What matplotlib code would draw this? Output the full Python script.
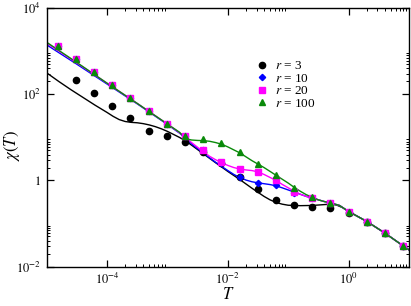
import matplotlib
matplotlib.use("Agg")
import matplotlib.pyplot as plt
import numpy as np
from matplotlib.ticker import FixedLocator, FixedFormatter

plt.rcParams['mathtext.fontset'] = 'stix'
plt.rcParams['font.family'] = ['Liberation Serif', 'DejaVu Serif']

# simulation points, T = 2^k
T_pts = [1.526e-5, 3.052e-5, 6.104e-5, 1.221e-4, 2.441e-4, 4.883e-4, 9.766e-4,
         1.953e-3, 3.906e-3, 7.813e-3, 1.563e-2, 3.125e-2, 6.25e-2, 0.125,
         0.25, 0.5, 1.0, 2.0, 4.0, 8.0]

chi_r3 = [216, 110, 54.6, 27.9, 14.4, 11.0, 7.94, 4.52, 2.51, 1.20,
          0.624, 0.347, 0.269, 0.248, 0.226, 0.174, 0.110, 0.0589, 0.0302]
chi_r10 = [1352, 653, 331, 168, 83.2, 41.8, 20.8, 10.7, 5.01, 2.51, 1.22,
           0.889, 0.794, 0.525, 0.389, 0.295, 0.186, 0.110, 0.0594, 0.0301]
chi_r20 = [1352, 653, 331, 168, 83.2, 41.8, 20.8, 10.7, 5.01, 2.65, 1.85,
           1.60, 1.03, 0.550, 0.398, 0.295, 0.186, 0.110, 0.0594, 0.0301]
chi_r100 = [1352, 653, 331, 168, 83.2, 41.8, 20.8, 10.7, 9.12, 7.24, 4.52,
            2.38, 1.32, 0.681, 0.407, 0.305, 0.186, 0.110, 0.0594, 0.0301]

# theory curves (log10 T, log10 chi)
tail_logT = [0.0, 0.3, 0.6, 0.9, 1.0]
tail_logchi = [-0.72, -0.95, -1.22, -1.515, -1.61]

line3_logT = [-5.0, -4.8, -4.6, -4.4, -4.2, -4.0, -3.9, -3.8, -3.7, -3.6, -3.5,
              -3.4, -3.3, -3.2, -3.1, -3.0, -2.9, -2.8, -2.7, -2.6, -2.4, -2.2,
              -2.0, -1.8, -1.6, -1.4, -1.3, -1.2, -1.1, -1.0, -0.8, -0.6, -0.4,
              -0.3, -0.2, -0.1]
line3_logchi = [2.50, 2.30, 2.11, 1.93, 1.75, 1.58, 1.49, 1.415, 1.37, 1.35, 1.34,
                1.32, 1.29, 1.25, 1.20, 1.14, 1.07, 1.00, 0.92, 0.82, 0.615, 0.41,
                0.21, 0.02, -0.18, -0.37, -0.45, -0.51, -0.55, -0.575, -0.585,
                -0.58, -0.56, -0.55, -0.57, -0.63]

line10_logT = [-5.0, -4.5, -4.0, -3.5, -3.0, -2.8, -2.6, -2.4, -2.2, -2.0, -1.9,
               -1.8, -1.7, -1.6, -1.5, -1.4, -1.3, -1.2, -1.1, -1.0, -0.9, -0.8,
               -0.7, -0.6, -0.5, -0.4, -0.3, -0.15]
line10_logchi = [3.15, 2.70, 2.24, 1.78, 1.30, 1.10, 0.85, 0.63, 0.42, 0.23, 0.14,
                 0.07, 0.01, -0.03, -0.055, -0.075, -0.095, -0.125, -0.17, -0.22,
                 -0.27, -0.32, -0.37, -0.41, -0.45, -0.49, -0.52, -0.58]

line20_logT = [-5.0, -4.5, -4.0, -3.5, -3.0, -2.8, -2.6, -2.4, -2.3, -2.2, -2.1,
               -2.0, -1.9, -1.8, -1.7, -1.6, -1.5, -1.4, -1.3, -1.2, -1.1, -1.0,
               -0.9, -0.8, -0.7, -0.6, -0.5, -0.4, -0.3, -0.15]
line20_logchi = [3.19, 2.73, 2.26, 1.79, 1.31, 1.11, 0.88, 0.66, 0.56, 0.48, 0.41,
                 0.35, 0.30, 0.265, 0.245, 0.23, 0.20, 0.14, 0.07, 0.0, -0.09,
                 -0.17, -0.25, -0.32, -0.37, -0.41, -0.45, -0.49, -0.52, -0.58]

line100_logT = [-5.0, -4.5, -4.0, -3.5, -3.0, -2.8, -2.75, -2.7, -2.65, -2.6, -2.5,
                -2.4, -2.3, -2.2, -2.1, -2.0, -1.9, -1.8, -1.7, -1.6, -1.5, -1.4,
                -1.3, -1.2, -1.1, -1.0, -0.9, -0.8, -0.7, -0.6, -0.5, -0.4, -0.3,
                -0.15]
line100_logchi = [3.21, 2.74, 2.26, 1.79, 1.31, 1.12, 1.05, 0.99, 0.955, 0.94, 0.93,
                  0.925, 0.91, 0.88, 0.84, 0.78, 0.71, 0.64, 0.55, 0.46, 0.38, 0.30,
                  0.21, 0.12, 0.03, -0.06, -0.16, -0.25, -0.33, -0.39, -0.45, -0.49,
                  -0.52, -0.58]

green = '#0a8a0a'
colors = ['black', 'blue', 'magenta', green]

fig = plt.figure(figsize=(4.11, 3.06), dpi=100)
ax = fig.add_axes([0.1136, 0.1288, 0.8814, 0.8442])

lines = [(line3_logT, line3_logchi), (line10_logT, line10_logchi),
         (line20_logT, line20_logchi), (line100_logT, line100_logchi)]
for (lt, lc), c in zip(lines, colors):
    ax.plot(10.0 ** np.array(lt + tail_logT), 10.0 ** np.array(lc + tail_logchi),
            color=c, lw=1.0, zorder=2)

ax.plot(T_pts[1:], chi_r3, 'o', color='black', ms=4.5, ls='none', zorder=3,
        label=r'$r$ = 3')
ax.plot(T_pts, chi_r10, 'D', color='blue', ms=3.2, ls='none', zorder=4,
        label=r'$r$ = 10')
ax.plot(T_pts, chi_r20, 's', color='magenta', ms=4.3, ls='none', zorder=5,
        label=r'$r$ = 20')
ax.plot(T_pts, chi_r100, '^', color=green, ms=4.8, ls='none', zorder=6,
        label=r'$r$ = 100')

ax.set_xscale('log')
ax.set_yscale('log')
ax.set_xlim(1e-5, 10)
ax.set_ylim(1e-2, 1e4)

xmaj = [1e-4, 1e-2, 1.0]
ymaj = [1e-2, 1.0, 1e2, 1e4]
ax.xaxis.set_major_locator(FixedLocator(xmaj))
ax.xaxis.set_major_formatter(FixedFormatter([r'$10^{-4}$', r'$10^{-2}$', r'$10^{0}$']))
ax.yaxis.set_major_locator(FixedLocator(ymaj))
ax.yaxis.set_major_formatter(FixedFormatter([r'$10^{-2}$', r'$1$', r'$10^{2}$', r'$10^{4}$']))
ax.xaxis.set_minor_locator(FixedLocator([m * b for b in xmaj for m in range(2, 10)]))
ax.yaxis.set_minor_locator(FixedLocator([m * b for b in ymaj for m in range(2, 10)]))
ax.xaxis.set_minor_formatter(FixedFormatter([]))
ax.yaxis.set_minor_formatter(FixedFormatter([]))

ax.tick_params(which='both', direction='in', top=True, right=True, labelsize=9)
ax.tick_params(which='major', length=5, width=0.9, pad=4)
ax.tick_params(which='minor', length=2.5, width=0.7)
for s in ax.spines.values():
    s.set_linewidth(1.0)

ax.set_xlabel(r'$T$', fontsize=12, labelpad=0)
ax.set_ylabel(r'$\chi(T)$', fontsize=12)
ax.yaxis.set_label_coords(-0.068, 0.47)

ax.legend(loc='upper left', bbox_to_anchor=(0.555, 0.825), frameon=False,
          fontsize=9.5, handletextpad=0.4, labelspacing=0.02, handlelength=1.2,
          borderpad=0)

fig.savefig('out.png', dpi=100)
